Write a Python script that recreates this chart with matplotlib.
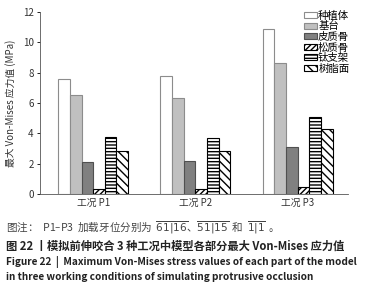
import matplotlib
matplotlib.use("Agg")
import matplotlib.pyplot as plt
import numpy as np

plt.rcParams['font.family'] = ['Noto Sans CJK SC', 'DejaVu Sans']
plt.rcParams['mathtext.fontset'] = 'dejavusans'
plt.rcParams['hatch.linewidth'] = 1.0

categories = ['工况 P1', '工况 P2', '工况 P3']
series = ['种植体', '基台', '皮质骨', '松质骨', '钛支架', '树脂面']
values = {
    '种植体': [7.6, 7.75, 10.9],
    '基台': [6.5, 6.3, 8.6],
    '皮质骨': [2.1, 2.2, 3.1],
    '松质骨': [0.3, 0.3, 0.45],
    '钛支架': [3.75, 3.7, 5.1],
    '树脂面': [2.85, 2.85, 4.3],
}
yticks = [0, 2, 4, 6, 8, 10, 12]

styles = {
    '种植体': dict(facecolor='white', edgecolor='#8c8c8c', hatch=None),
    '基台': dict(facecolor='#c0c0c0', edgecolor='#8c8c8c', hatch=None),
    '皮质骨': dict(facecolor='#808080', edgecolor='#505050', hatch=None),
    '松质骨': dict(facecolor='white', edgecolor='black', hatch='//////'),
    '钛支架': dict(facecolor='white', edgecolor='black', hatch='-----'),
    '树脂面': dict(facecolor='white', edgecolor='black', hatch='\\\\\\\\'),
}

fig = plt.figure(figsize=(3.72, 2.90), dpi=100)
ax = fig.add_axes([0.1075, 0.331, 0.8275, 0.628])

x = np.arange(len(categories))
w = 0.114
for i, s in enumerate(series):
    st = styles[s]
    ax.bar(x + (i - 2.5) * w, values[s], width=w, facecolor=st['facecolor'],
           edgecolor=st['edgecolor'], hatch=st['hatch'], linewidth=0.8, label=s)

ax.set_xlim(-0.52, 2.49)
ax.set_ylim(0, 12)
ax.set_yticks(yticks)
ax.set_yticklabels([str(t) for t in yticks], fontsize=7, color='#333333')
ax.set_xticks(x)
ax.set_xticklabels(categories, fontsize=7, color='#333333')
ax.tick_params(axis='x', length=0, pad=3)
ax.tick_params(axis='y', length=2.5, width=0.6, pad=2)
for sp in ['top', 'right']:
    ax.spines[sp].set_visible(False)
for sp in ['left', 'bottom']:
    ax.spines[sp].set_linewidth(0.6)
    ax.spines[sp].set_color('#555555')
ax.set_ylabel('最大 Von-Mises 应力值 (MPa)', fontsize=7, color='#333333', labelpad=5)

leg = ax.legend(loc='upper right', bbox_to_anchor=(1.025, 1.04), frameon=False,
                fontsize=7.5, handlelength=1.2, handleheight=0.55, handletextpad=0.15,
                labelspacing=0.05, borderpad=0.1)

fig.text(0.016, 1 - 228 / 290,
         '图注：  P1–P3  加载牙位分别为  $\\overline{61|16}$、$\\overline{51|15}$  和  $\\overline{1|1}$  。',
         fontsize=7.6, color='#444444', va='center')
fig.text(0.016, 1 - 246 / 290,
         '图 22 丨模拟前伸咬合 3 种工况中模型各部分最大 Von-Mises 应力值',
         fontsize=8.1, color='#222222', fontweight='bold', va='center')
fig.text(0.016, 1 - 262 / 290,
         'Figure 22  |  Maximum Von-Mises stress values of each part of the model',
         fontsize=7.25, color='#222222', fontweight='bold', va='center')
fig.text(0.016, 1 - 277 / 290,
         'in three working conditions of simulating protrusive occlusion',
         fontsize=7.25, color='#222222', fontweight='bold', va='center')

fig.savefig('out.png', dpi=100)
